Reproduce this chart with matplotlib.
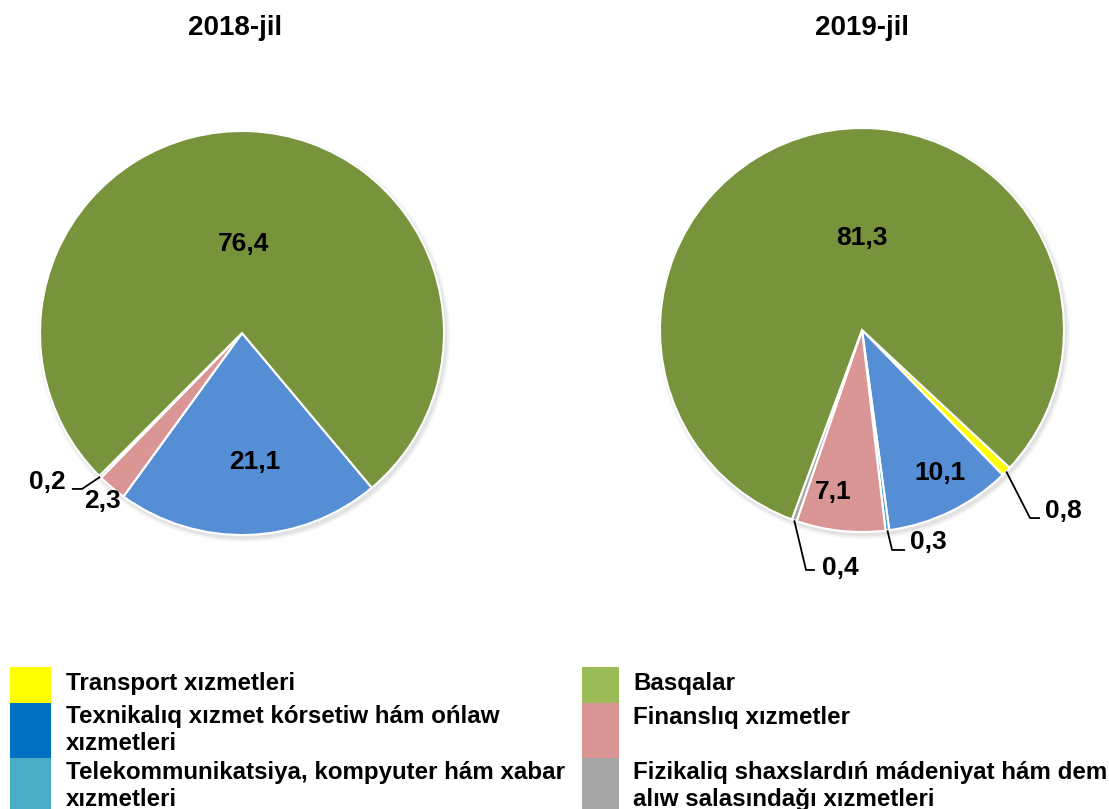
import numpy as np
import matplotlib.pyplot as plt
from matplotlib.patches import Rectangle, Circle

# categories (pie order, clockwise)
categories = ['Transport xızmetleri',
              'Texnikalıq xızmet kórsetiw hám ońlaw\nxızmetleri',
              'Telekommunikatsiya, kompyuter hám xabar\nxızmetleri',
              'Finanslıq xızmetler',
              'Fizikaliq shaxslardıń mádeniyat hám dem\nalıw salasındağı xızmetleri',
              'Basqalar']
years = ['2018-jil', '2019-jil']
share_2018 = [0.0, 21.1, 0.0, 2.3, 0.2, 76.4]
share_2019 = [0.8, 10.1, 0.3, 7.1, 0.4, 81.3]

pie_colors = ['#FFFF00', '#558ED5', '#4BACC6', '#D99694', '#A6A6A6', '#77933C']
legend_colors = ['#FFFF00', '#0070C0', '#4BACC6', '#D99694', '#A6A6A6', '#9BBB59']

W, H = 1109, 809
FONT = 'Liberation Sans'

fig = plt.figure(figsize=(W / 100, H / 100), dpi=100)
ax = fig.add_axes([0, 0, 1, 1])

# pie layout (pixels, y from top)
centers = [(242, 333), (862, 330)]
R = 202
starts = [-50, -43]
title_x = [235, 862]

# label placement in radius units relative to the centre: inside labels
inside_pos = [
    {1: (0.064, -0.64), 3: (-0.693, -0.83), 5: (0.01, 0.44)},
    {1: (0.386, -0.708), 3: (-0.144, -0.802), 5: (0.0, 0.455)},
]
# leader labels: elbow, end of line, text anchor, alignment
leader_pos = [
    {4: ((-0.792, -0.772), (-0.842, -0.772), (-0.871, -0.74), 'right')},
    {0: ((0.832, -0.931), (0.881, -0.931), (0.906, -0.896), 'left'),
     2: ((0.149, -1.089), (0.213, -1.089), (0.238, -1.050), 'left'),
     4: ((-0.277, -1.188), (-0.233, -1.188), (-0.198, -1.18), 'left')},
]

for k, vals in enumerate([share_2018, share_2019]):
    cx, cy = centers[k][0], H - centers[k][1]
    # soft shadow
    for i, a in enumerate([0.10, 0.08, 0.06]):
        ax.add_patch(Circle((cx + 2, cy - 3), R + 1 + i * 1.5, color='#808080',
                            alpha=a, lw=0, zorder=0))
    wedges, _ = ax.pie(vals, colors=pie_colors, startangle=starts[k],
                       counterclock=False, center=(cx, cy), radius=R,
                       wedgeprops=dict(edgecolor='white', linewidth=1.5))
    for w in wedges:
        w.set_zorder(2)
    for i, w in enumerate(wedges):
        lbl = f'{vals[i]:.1f}'.replace('.', ',')
        if i in inside_pos[k]:
            px, py = inside_pos[k][i]
            ax.text(cx + px * R, cy + py * R, lbl, ha='center', va='center',
                    fontsize=19, fontweight='bold', family=FONT, zorder=5)
        elif i in leader_pos[k]:
            mid = np.deg2rad((w.theta1 + w.theta2) / 2)
            ex, ey = cx + R * np.cos(mid), cy + R * np.sin(mid)
            (bx, by), (fx, fy), (tx, ty), ha = leader_pos[k][i]
            ax.plot([ex, cx + bx * R, cx + fx * R], [ey, cy + by * R, cy + fy * R],
                    color='black', lw=1.3, zorder=5, solid_capstyle='butt')
            ax.text(cx + tx * R, cy + ty * R, lbl, ha=ha, va='center',
                    fontsize=19, fontweight='bold', family=FONT, zorder=5)
    ax.text(title_x[k], H - 28, years[k], ha='center', va='center',
            fontsize=20, fontweight='bold', family=FONT)

# legend: two columns drawn in pixels
legend_cols = [[0, 1, 2], [5, 3, 4]]
col_box_x = [(10, 51), (582, 619)]
col_text_x = [66, 633]
row_bounds = [(667, 703), (703, 758), (758, 812)]
first_baseline = [[690, 723, 779], [690, 724, 779]]
line_gap = 27

for c, col in enumerate(legend_cols):
    x0, x1 = col_box_x[c]
    for r, idx in enumerate(col):
        y0, y1 = row_bounds[r]
        ax.add_patch(Rectangle((x0, H - y1), x1 - x0, y1 - y0,
                               color=legend_colors[idx], lw=0, zorder=3))
        for j, line in enumerate(categories[idx].split('\n')):
            ax.text(col_text_x[c], H - (first_baseline[c][r] + j * line_gap), line,
                    ha='left', va='baseline', fontsize=17.4, fontweight='bold',
                    family=FONT, zorder=4)

ax.set_xlim(0, W)
ax.set_ylim(0, H)
ax.set_aspect('auto')
ax.axis('off')

fig.savefig('out.png', dpi=100, facecolor='white')
